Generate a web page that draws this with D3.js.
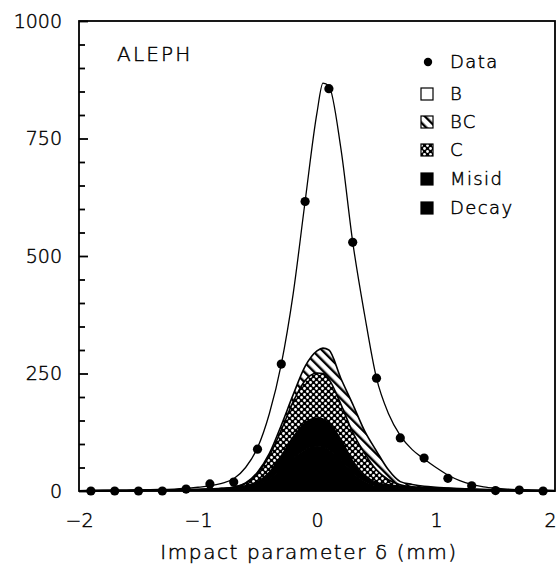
<!DOCTYPE html>
<html>
<head>
<meta charset="utf-8">
<script src="https://cdn.jsdelivr.net/npm/d3@7"></script>
<style>
    body { margin: 0; background: #fff; }
    text { font-family: "DejaVu Sans", sans-serif; font-weight: 200; fill: #000; stroke: #000; stroke-width: 0.45px; }
</style>
</head>
<body>
<div id="chart"></div>
<script>
// measured points (bins of 0.2 mm)
const dataX = [-1.9, -1.7, -1.5, -1.3, -1.1, -0.9, -0.7, -0.5, -0.3, -0.1, 0.1, 0.3, 0.5, 0.7, 0.9, 1.1, 1.3, 1.5, 1.7, 1.9];
const dataY = [0, 0, 0, 0, 4, 15, 19, 89, 270, 616, 856, 529, 240, 113, 70, 27, 11, 1, 2, 0];

// fitted components at these x values
const gridX = [-2.0, -1.8, -1.6, -1.4, -1.2, -1.0, -0.9, -0.8, -0.7, -0.6, -0.5, -0.4, -0.3, -0.2, -0.1, 0.0, 0.05, 0.1, 0.2, 0.3, 0.4, 0.5, 0.6, 0.7, 0.8, 0.9, 1.0, 1.1, 1.2, 1.3, 1.4, 1.5, 1.6, 1.8, 2.0];
const decay = [0.3, 0.5, 0.6, 0.9, 1.2, 2, 2.5, 3, 4, 7, 12, 24, 45, 70, 88, 94, 93, 88, 67, 39, 21, 11, 8, 6, 5, 4, 4, 3, 2.5, 2, 1.5, 1.2, 1, 0.6, 0.3];
const misid = [0.2, 0.3, 0.4, 0.6, 0.8, 1, 1.5, 2, 3, 4, 8, 16, 30, 45, 57, 61, 60, 57, 43, 25, 13, 7, 5, 4, 3, 3, 2, 2, 1.5, 1, 1, 0.8, 0.5, 0.4, 0.2];
const charm = [0, 0, 0, 0, 0, 0, 0, 0, 1, 5, 18, 35, 55, 75, 90, 96, 97, 93, 75, 61, 46, 27, 11, 3, 1, 0.5, 0.5, 0.5, 0.5, 0.5, 0.5, 0.5, 0.5, 0.2, 0.1];
const bcharm = [0.1, 0.1, 0.2, 0.2, 0.2, 0.2, 0.2, 0.5, 0.5, 1, 2, 5, 10, 15, 30, 47, 54, 62, 55, 60, 48, 40, 21, 7, 5, 2.5, 1.5, 1, 0.5, 0.5, 0.3, 0.2, 0.2, 0.2, 0.1];
const beauty = [0.4, 0.3, 0.8, 1.3, 1.8, 4.8, 6.8, 10.5, 17.5, 33, 52, 85, 130, 215, 351, 507, 564, 562, 490, 345, 247, 155, 120, 98, 74, 58, 42, 27.5, 17, 10, 5.7, 3.3, 1.8, 0.6, 0.3];

const xTicks = [-2, -1, 0, 1, 2];
const yTicks = [0, 250, 500, 750, 1000];
const yMinor = [50, 100, 150, 200, 300, 350, 400, 450, 550, 600, 650, 700, 800, 850, 900, 950];
const legendLabels = ["Data", "B", "BC", "C", "Misid", "Decay"];

const width = 557;
const height = 572;

const svg = d3.select("#chart")
    .append("svg")
    .attr("width", width)
    .attr("height", height);

const x = d3.scaleLinear().domain([-2, 2]).range([79, 555]);
const y = d3.scaleLinear().domain([0, 1000]).range([491, 21]);

// fill patterns
const defs = svg.append("defs");
const hatch = defs.append("pattern")
    .attr("id", "hatch")
    .attr("patternUnits", "userSpaceOnUse")
    .attr("width", 7)
    .attr("height", 7)
    .attr("patternTransform", "rotate(-45)");
hatch.append("rect").attr("width", 7).attr("height", 7).attr("fill", "#fff");
hatch.append("rect").attr("x", 0).attr("width", 2.4).attr("height", 7).attr("fill", "#000");

const cross = defs.append("pattern")
    .attr("id", "cross")
    .attr("patternUnits", "userSpaceOnUse")
    .attr("width", 6)
    .attr("height", 6);
cross.append("rect").attr("width", 6).attr("height", 6).attr("fill", "#000");
cross.append("circle").attr("cx", 1.5).attr("cy", 1.5).attr("r", 1.4).attr("fill", "#fff");
cross.append("circle").attr("cx", 4.5).attr("cy", 4.5).attr("r", 1.4).attr("fill", "#fff");

// stack the components, bottom first
const keys = ["decay", "misid", "charm", "bcharm", "beauty"];
const fills = { decay: "#000", misid: "#000", charm: "url(#cross)", bcharm: "url(#hatch)", beauty: "#fff" };
const rows = gridX.map((gx, i) => ({
    x: gx, decay: decay[i], misid: misid[i], charm: charm[i], bcharm: bcharm[i], beauty: beauty[i]
}));
const series = d3.stack().keys(keys)(rows);

const area = d3.area()
    .x(d => x(d.data.x))
    .y0(d => y(d[0]))
    .y1(d => y(d[1]))
    .curve(d3.curveMonotoneX);

const topLine = d3.line()
    .x(d => x(d.data.x))
    .y(d => y(d[1]))
    .curve(d3.curveMonotoneX);

svg.append("g").selectAll("path.layer")
    .data(series)
    .join("path")
    .attr("class", "layer")
    .attr("d", area)
    .attr("fill", d => fills[d.key]);

svg.append("g").selectAll("path.edge")
    .data(series)
    .join("path")
    .attr("class", "edge")
    .attr("d", topLine)
    .attr("fill", "none")
    .attr("stroke", "#000")
    .attr("stroke-width", d => d.key == "beauty" ? 1.3 : 1.6);

// data points
svg.append("g").selectAll("circle")
    .data(dataX)
    .join("circle")
    .attr("cx", d => x(d))
    .attr("cy", (d, i) => y(dataY[i]))
    .attr("r", 4.6)
    .attr("fill", "#000");

// frame
svg.append("rect")
    .attr("x", x(-2))
    .attr("y", y(1000))
    .attr("width", x(2) - x(-2))
    .attr("height", y(0) - y(1000))
    .attr("fill", "none")
    .attr("stroke", "#000")
    .attr("stroke-width", 1.8);

// axes
svg.append("g")
    .attr("transform", `translate(${x(-2)},0)`)
    .call(d3.axisLeft(y).tickValues(yTicks).tickSize(-9).tickPadding(17).tickFormat(d3.format("d")));
svg.append("g")
    .attr("transform", `translate(${x(-2)},0)`)
    .call(d3.axisLeft(y).tickValues(yMinor).tickSize(-6).tickFormat(""));
const xAxis = svg.append("g")
    .attr("transform", `translate(0,${y(0)})`)
    .call(d3.axisBottom(x).tickValues(xTicks).tickSize(0).tickPadding(23).tickFormat(d3.format("d")));

svg.selectAll(".domain").remove();
svg.selectAll(".tick line").attr("stroke", "#000").attr("stroke-width", 1.8);
svg.selectAll(".tick text").style("font-size", "19px").style("font-family", '"DejaVu Sans", sans-serif');
// the last label sits against the right edge of the page
xAxis.selectAll(".tick text").filter(d => d == 2)
    .attr("text-anchor", "end")
    .attr("x", width - 1 - x(2));

svg.append("text")
    .attr("x", 309)
    .attr("y", 559)
    .attr("text-anchor", "middle")
    .style("font-size", "20px")
    .style("letter-spacing", "1.6px")
    .text("Impact parameter δ (mm)");

svg.append("text")
    .attr("x", 117)
    .attr("y", 61)
    .style("font-size", "20px")
    .style("letter-spacing", "2.2px")
    .text("ALEPH");

// legend
const legendY = [62, 94, 122, 150, 179, 208];
const legendFill = [null, "#fff", "url(#hatch)", "url(#cross)", "#000", "#000"];
const legend = svg.append("g");
legendLabels.forEach((label, i) => {
    if (i == 0) {
        legend.append("circle")
            .attr("cx", 428)
            .attr("cy", legendY[i])
            .attr("r", 4.2)
            .attr("fill", "#000");
    } else {
        legend.append("rect")
            .attr("x", 421)
            .attr("y", legendY[i] - 6)
            .attr("width", 12)
            .attr("height", 12)
            .attr("fill", legendFill[i])
            .attr("stroke", "#000")
            .attr("stroke-width", 1.2);
    }
    legend.append("text")
        .attr("x", 450)
        .attr("y", legendY[i])
        .attr("dy", "0.36em")
        .style("font-size", "18px")
        .style("letter-spacing", "1.4px")
        .text(label);
});
</script>
</body>
</html>
